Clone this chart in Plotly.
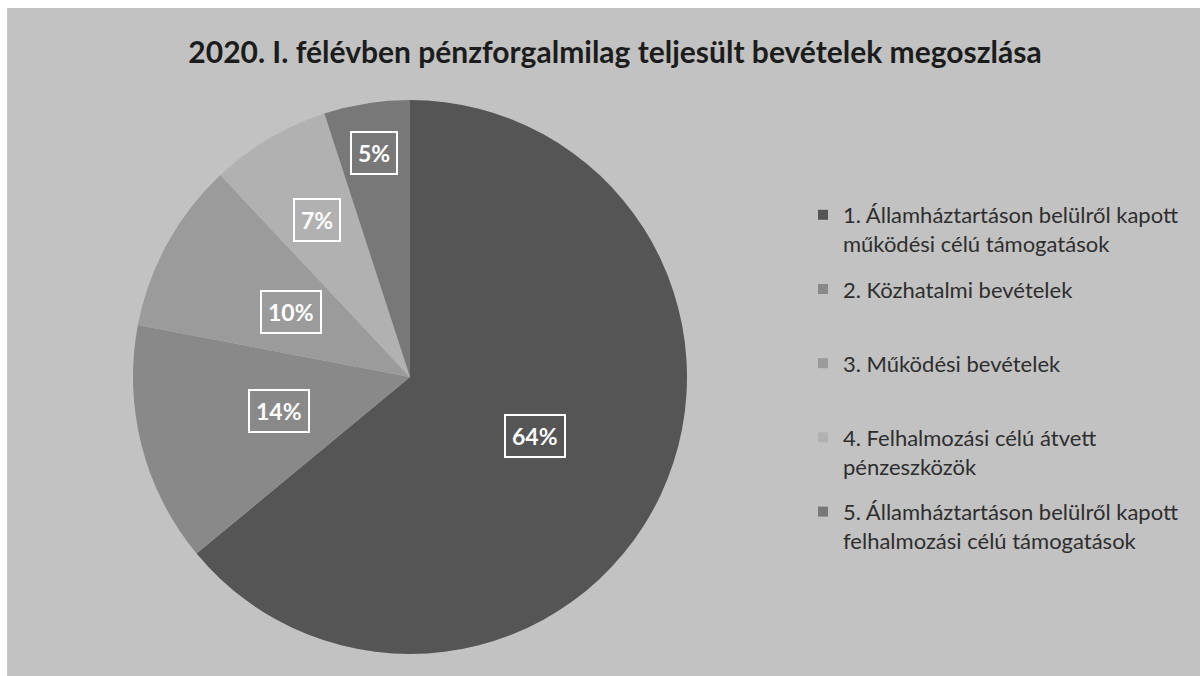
import plotly.graph_objects as go
import math

# ---- data ----
categories = [
    "1. Államháztartáson belülről kapott<br>működési célú támogatások",
    "2. Közhatalmi bevételek",
    "3. Működési bevételek",
    "4. Felhalmozási célú átvett<br>pénzeszközök",
    "5. Államháztartáson belülről kapott<br>felhalmozási célú támogatások",
]
shares = [64, 14, 10, 7, 5]
title_text = "2020. I. félévben pénzforgalmilag teljesült bevételek megoszlása"

# ---- style ----
slice_colors = ["#555555", "#898989", "#9b9b9b", "#b1b1b1", "#787878"]
label_r = [0.50, 0.49, 0.49, 0.66, 0.82]   # radial placement of the boxed labels
W, H = 1200, 676
CX, CY, R = 410, 377, 277
FONT = "Lato"
BG = "#c2c2c2"

fig = go.Figure()
fig.add_trace(go.Pie(
    labels=categories, values=shares, sort=False, direction="clockwise",
    rotation=0, marker=dict(colors=slice_colors, line=dict(width=0)),
    textinfo="none", showlegend=False,
    domain=dict(x=[(CX - R) / W, (CX + R) / W], y=[1 - (CY + R) / H, 1 - (CY - R) / H]),
))

# legend entries (one group each so the slots are evenly spaced)
for name, col in zip(categories, slice_colors):
    label = name if "<br>" in name else name + "<br>\u00a0"
    fig.add_trace(go.Scatter(
        x=[None], y=[None], mode="markers", name=label, legendgroup=name,
        marker=dict(symbol="square", size=10, color=col), showlegend=True,
    ))

# boxed percentage labels at slice mid-angles
total = sum(shares)
cum = 0
annotations = []
for v, rf in zip(shares, label_r):
    mid = (cum + v / 2) / total * 2 * math.pi
    cum += v
    px = CX + rf * R * math.sin(mid)
    py = CY - rf * R * math.cos(mid)
    annotations.append(dict(
        x=px / W, y=1 - py / H, xref="paper", yref="paper", showarrow=False,
        xanchor="center", yanchor="middle",
        text=f"<b>{v}%</b>", font=dict(family=FONT, size=23, color="white"),
        bordercolor="white", borderwidth=2, borderpad=6,
    ))

fig.update_layout(
    width=W, height=H,
    margin=dict(l=0, r=0, t=0, b=0),
    paper_bgcolor="white", plot_bgcolor="rgba(0,0,0,0)",
    xaxis=dict(visible=False), yaxis=dict(visible=False),
    title=dict(text=f"<b>{title_text}</b>", x=615 / W, y=1 - 52 / H,
               xanchor="center", yanchor="middle",
               font=dict(family=FONT, size=30, color="#1c1c1c")),
    legend=dict(x=803 / W, y=1 - 194 / H, xanchor="left", yanchor="top",
                valign="top", tracegroupgap=14, bgcolor="rgba(0,0,0,0)",
                font=dict(family=FONT, size=22, color="#2e2e2e")),
    annotations=annotations,
    shapes=[dict(type="rect", xref="paper", yref="paper", x0=7 / W, x1=1,
                 y0=0, y1=1 - 8 / H, fillcolor=BG, line=dict(width=0), layer="below")],
)

fig.write_html("out.html")
